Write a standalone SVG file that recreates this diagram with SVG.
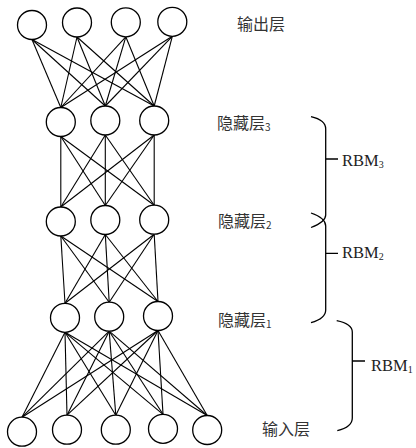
<svg xmlns="http://www.w3.org/2000/svg" width="416" height="448" viewBox="0 0 416 448">
<style>
.n{fill:#fff;stroke:#000;stroke-width:1.3}
.e line{stroke:#000;stroke-width:1.1}
.b{fill:none;stroke:#000;stroke-width:1.3}
.cj{font-family:"Noto Sans CJK SC","Noto Sans CJK JP",sans-serif;font-size:16px;fill:#333}
.rb{font-family:"Liberation Serif",serif;font-size:16.5px;fill:#222}
.sub{font-size:10px}
</style>
<rect width="416" height="448" fill="#fff"/>
<g id="connectors" class="e">
<!-- output -> hidden3 -->
<line x1="32" y1="39.5" x2="60.8" y2="107.5"/><line x1="32" y1="39.5" x2="105.3" y2="106"/><line x1="32" y1="39.5" x2="154.2" y2="106"/>
<line x1="77" y1="37" x2="60.8" y2="107.5"/><line x1="77" y1="37" x2="105.3" y2="106"/><line x1="77" y1="37" x2="154.2" y2="106"/>
<line x1="125.8" y1="36.8" x2="60.8" y2="107.5"/><line x1="125.8" y1="36.8" x2="105.3" y2="106"/><line x1="125.8" y1="36.8" x2="154.2" y2="106"/>
<line x1="172.3" y1="36.3" x2="60.8" y2="107.5"/><line x1="172.3" y1="36.3" x2="105.3" y2="106"/><line x1="172.3" y1="36.3" x2="154.2" y2="106"/>
<!-- hidden3 -> hidden2 -->
<line x1="60.8" y1="136.5" x2="60.8" y2="207"/><line x1="60.8" y1="136.5" x2="105.3" y2="205.5"/><line x1="60.8" y1="136.5" x2="154.2" y2="205.2"/>
<line x1="105.3" y1="135" x2="60.8" y2="207"/><line x1="105.3" y1="135" x2="105.3" y2="205.5"/><line x1="105.3" y1="135" x2="154.2" y2="205.2"/>
<line x1="154.2" y1="135" x2="60.8" y2="207"/><line x1="154.2" y1="135" x2="105.3" y2="205.5"/><line x1="154.2" y1="135" x2="154.2" y2="205.2"/>
<!-- hidden2 -> hidden1 -->
<line x1="60.8" y1="236" x2="65" y2="303.3"/><line x1="60.8" y1="236" x2="109.2" y2="302.2"/><line x1="60.8" y1="236" x2="158" y2="301.5"/>
<line x1="105.3" y1="234.5" x2="65" y2="303.3"/><line x1="105.3" y1="234.5" x2="109.2" y2="302.2"/><line x1="105.3" y1="234.5" x2="158" y2="301.5"/>
<line x1="154.2" y1="234.2" x2="65" y2="303.3"/><line x1="154.2" y1="234.2" x2="109.2" y2="302.2"/><line x1="154.2" y1="234.2" x2="158" y2="301.5"/>
<!-- hidden1 -> input -->
<line x1="65" y1="332.3" x2="22" y2="417.2"/><line x1="65" y1="332.3" x2="67" y2="415.2"/><line x1="65" y1="332.3" x2="115.8" y2="415.2"/><line x1="65" y1="332.3" x2="163" y2="414.3"/><line x1="65" y1="332.3" x2="207.2" y2="415.5"/>
<line x1="109.2" y1="331.2" x2="22" y2="417.2"/><line x1="109.2" y1="331.2" x2="67" y2="415.2"/><line x1="109.2" y1="331.2" x2="115.8" y2="415.2"/><line x1="109.2" y1="331.2" x2="163" y2="414.3"/><line x1="109.2" y1="331.2" x2="207.2" y2="415.5"/>
<line x1="158" y1="330.5" x2="22" y2="417.2"/><line x1="158" y1="330.5" x2="67" y2="415.2"/><line x1="158" y1="330.5" x2="115.8" y2="415.2"/><line x1="158" y1="330.5" x2="163" y2="414.3"/><line x1="158" y1="330.5" x2="207.2" y2="415.5"/>
</g>
<g id="output-layer">
<circle class="n" cx="32" cy="25" r="14.5"/><circle class="n" cx="77" cy="22.5" r="14.5"/><circle class="n" cx="125.8" cy="22.3" r="14.5"/><circle class="n" cx="172.3" cy="21.8" r="14.5"/>
<text class="cj" x="237" y="30">输出层</text>
</g>
<g id="hidden3">
<circle class="n" cx="60.8" cy="122" r="14.5"/><circle class="n" cx="105.3" cy="120.5" r="14.5"/><circle class="n" cx="154.2" cy="120.5" r="14.5"/>
<text class="cj" x="217" y="129">隐藏层<tspan class="sub" dy="2">3</tspan></text>
</g>
<g id="hidden2">
<circle class="n" cx="60.8" cy="221.5" r="14.5"/><circle class="n" cx="105.3" cy="220" r="14.5"/><circle class="n" cx="154.2" cy="219.7" r="14.5"/>
<text class="cj" x="218" y="227">隐藏层<tspan class="sub" dy="2">2</tspan></text>
</g>
<g id="hidden1">
<circle class="n" cx="65" cy="317.8" r="14.5"/><circle class="n" cx="109.2" cy="316.7" r="14.5"/><circle class="n" cx="158" cy="316" r="14.5"/>
<text class="cj" x="218" y="326">隐藏层<tspan class="sub" dy="2">1</tspan></text>
</g>
<g id="input-layer">
<circle class="n" cx="22" cy="431.7" r="14.5"/><circle class="n" cx="67" cy="429.7" r="14.5"/><circle class="n" cx="115.8" cy="429.7" r="14.5"/><circle class="n" cx="163" cy="428.8" r="14.5"/><circle class="n" cx="207.2" cy="430" r="14.5"/>
<text class="cj" x="262" y="435">输入层</text>
</g>
<g id="rbm3">
<path class="b" d="M311,116.7 Q325.7,120 325.7,129 L325.7,215 Q325.7,222 311,227.5 M325.7,159 H338"/>
<text class="rb" x="342" y="165.5">RBM<tspan class="sub" dy="2">3</tspan></text>
</g>
<g id="rbm2">
<path class="b" d="M311,213 Q325.7,218 325.7,226 L325.7,310 Q325.7,318.5 311,322.7 M325.7,253.3 H338"/>
<text class="rb" x="342" y="258">RBM<tspan class="sub" dy="2">2</tspan></text>
</g>
<g id="rbm1">
<path class="b" d="M336.7,320.7 Q352.3,324 352.3,332 L352.3,418 Q352.3,427 337.3,430.7 M352.3,361 H365"/>
<text class="rb" x="371" y="371">RBM<tspan class="sub" dy="2">1</tspan></text>
</g>
</svg>
